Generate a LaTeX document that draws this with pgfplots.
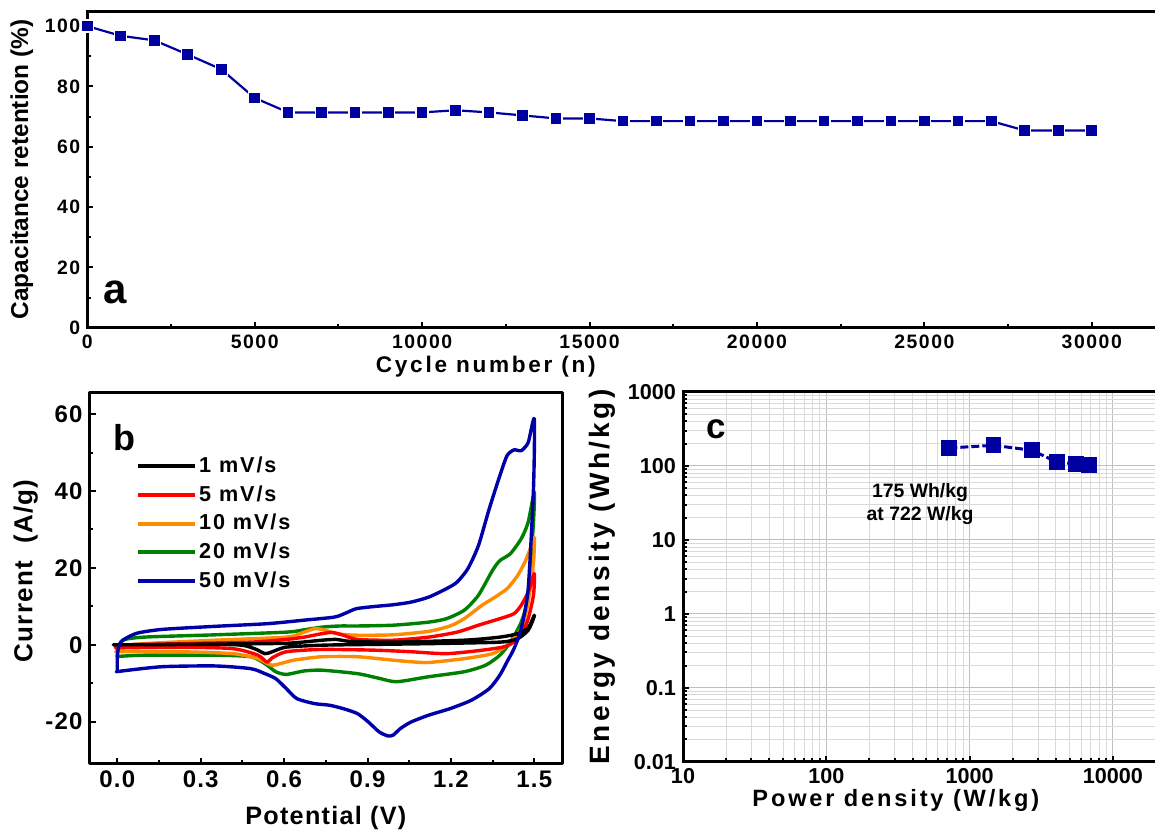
\documentclass[border=0pt]{standalone}
\usepackage{fontspec}
\setmainfont{Liberation Sans}
\newfontfamily\spA[LetterSpace=8]{Liberation Sans}
\newfontfamily\spB[LetterSpace=5]{Liberation Sans}
\newfontfamily\spL[LetterSpace=9]{Liberation Sans}
\newfontfamily\spC[LetterSpace=12]{Liberation Sans}
\usepackage{pgfplots}
\pgfplotsset{compat=1.18}
\definecolor{navy}{RGB}{0,0,160}
\definecolor{cvblue}{RGB}{0,0,170}
\definecolor{cvred}{RGB}{255,0,0}
\definecolor{cvorange}{RGB}{255,140,0}
\definecolor{cvgreen}{RGB}{0,128,0}
\pgfplotsset{
  myaxis/.style={scale only axis, axis line style={line width=1.5pt},
    tick style={line width=1pt, black}, tick align=inside, tick pos=left,
    major tick length=3pt, minor tick length=1.8pt,
    /pgf/number format/assume math mode=true, /pgf/number format/1000 sep={},
    scaled ticks=false},
  cv/.style={line width=1.7pt, forget plot, smooth, tension=0.4},
}
\begin{document}
\begin{tikzpicture}
\path[use as bounding box] (0,0) rectangle (577.5pt,417pt);
% ---------------- panel a
\begin{axis}[myaxis, at={(43.65pt,253.15pt)}, anchor=south west,
  width=535.7pt, height=158.3pt,
  xmin=0, xmax=32000, ymin=0, ymax=105,
  xtick={0,5000,...,30000}, ytick={0,20,...,100},
  minor x tick num=1, minor y tick num=1,
  ticklabel style={font=\spA\bfseries\fontsize{9.7}{11}\selectfont},
  xlabel={Cycle number (n)}, ylabel={Capacitance retention (\%)},
  xlabel style={font=\spC\bfseries\fontsize{11.3}{13}\selectfont, at={(axis description cs:0.372,-0.124)}, anchor=center},
  ylabel style={font=\bfseries\fontsize{12.2}{14}\selectfont, at={(axis description cs:-0.061,0.5)}, anchor=center},
]
\addplot[navy, line width=1.1pt, mark=square*, mark size=3pt,
  mark options={solid, fill=navy, draw=white, line width=0.7pt}] coordinates {
(0,100) (1000,96.8) (2000,95.3) (3000,90.6) (4000,85.7) (5000,76.2)
(6000,71.4) (7000,71.4) (8000,71.4) (9000,71.4) (10000,71.4) (11000,72.1)
(12000,71.4) (13000,70.4) (14000,69.4) (15000,69.4) (16000,68.5) (17000,68.5)
(18000,68.5) (19000,68.5) (20000,68.5) (21000,68.5) (22000,68.5) (23000,68.5)
(24000,68.5) (25000,68.5) (26000,68.5) (27000,68.5) (28000,65.4) (29000,65.4)
(30000,65.4)};
\node[font=\bfseries\fontsize{21}{24}\selectfont] at (rel axis cs:0.026,0.11) {a};
\end{axis}
% ---------------- panel b
\begin{axis}[myaxis, at={(44.75pt,35pt)}, anchor=south west,
  width=236.3pt, height=185.5pt,
  xmin=-0.1, xmax=1.6, ymin=-31, ymax=65.5,
  xtick={0,0.3,0.6,0.9,1.2,1.5}, ytick={-20,0,20,40,60},
  minor x tick num=1, minor y tick num=1,
  xticklabel style={/pgf/number format/.cd, fixed, fixed zerofill, precision=1},
  ticklabel style={font=\spB\bfseries\fontsize{12}{14}\selectfont},
  xlabel={Potential (V)}, ylabel={Current\ \ (A/g)},
  xlabel style={font=\spB\bfseries\fontsize{12.6}{14}\selectfont, at={(axis description cs:0.5,-0.145)}, anchor=center},
  ylabel style={font=\spB\bfseries\fontsize{13}{15}\selectfont, at={(axis description cs:-0.135,0.52)}, anchor=center},
  legend style={draw=none, fill=none, at={(rel axis cs:0.085,0.845)}, anchor=north west,
    font=\spL\bfseries\fontsize{10.8}{12}\selectfont, row sep=3pt,
    nodes={inner sep=1pt}},
  legend cell align=left,
  legend image code/.code={\draw[#1, line width=2pt] (0pt,0pt) -- (28.5pt,0pt);},
  line join=round,
]
\addlegendimage{black}\addlegendentry{1 mV/s}
\addlegendimage{cvred}\addlegendentry{5 mV/s}
\addlegendimage{cvorange}\addlegendentry{10 mV/s}
\addlegendimage{cvgreen}\addlegendentry{20 mV/s}
\addlegendimage{cvblue}\addlegendentry{50 mV/s}
\addplot[cvgreen, cv] coordinates {
(0,-3.0) (0.003,-1) (0.019,1.2) (0.096,2.0) (0.352,2.6) (0.608,3.3) (0.672,3.9)
(0.736,4.6) (0.8,4.9) (0.864,4.9) (0.992,5.1) (1.12,5.9) (1.184,6.8) (1.248,9.0)
(1.299,12.9) (1.35,19.4) (1.376,21.9) (1.414,23.7) (1.453,27.6) (1.478,31.9) (1.5,39.7)
(1.497,31.9) (1.478,12.9) (1.453,5.9) (1.414,0.74) (1.376,-2.7) (1.325,-5.3) (1.248,-7.0)
(1.12,-8.3) (1.005,-9.6) (0.941,-8.7) (0.864,-7.5) (0.736,-6.6) (0.672,-6.8) (0.608,-7.7)
(0.57,-7.0) (0.531,-4.9) (0.48,-3.1) (0.352,-2.7) (0.096,-2.7) (0.006,-3.0) (0,-3.0)};
\addplot[cvorange, cv] coordinates {
(0,-1.8) (0.006,-0.5) (0.096,0.3) (0.352,1.2) (0.608,2.0) (0.672,3.3) (0.71,4.2)
(0.736,4.0) (0.8,2.8) (0.864,2.5) (0.992,2.6) (1.12,3.5) (1.197,4.9) (1.248,6.8)
(1.312,10.3) (1.35,12.0) (1.402,14.6) (1.44,18.0) (1.466,21.5) (1.485,24.9) (1.5,27.9)
(1.497,21.5) (1.478,11.1) (1.453,4.2) (1.402,-0.1) (1.35,-2.3) (1.248,-3.6) (1.12,-4.6)
(1.056,-4.4) (0.992,-4.0) (0.864,-3.1) (0.736,-3.1) (0.634,-4.0) (0.557,-5.3) (0.506,-3.6)
(0.416,-2.3) (0.224,-1.8) (0.006,-1.8) (0,-1.8)};
\addplot[cvred, cv] coordinates {
(0,-0.8) (0.006,-0.1) (0.224,0.3) (0.48,0.7) (0.608,1.4) (0.672,2.0) (0.736,2.9)
(0.774,3.2) (0.813,2.5) (0.864,1.4) (0.992,1.2) (1.12,2.0) (1.222,3.3) (1.299,5.1)
(1.376,6.8) (1.427,8.1) (1.453,10.3) (1.478,13.7) (1.5,18.5) (1.497,12.9) (1.478,6.8)
(1.453,2.5) (1.402,-0.3) (1.312,-1.4) (1.184,-2.3) (1.056,-1.8) (0.928,-1.4) (0.736,-1.2)
(0.608,-1.8) (0.557,-3.4) (0.538,-4.5) (0.506,-2.7) (0.416,-1.0) (0.224,-0.6) (0.006,-0.8) (0,-0.8)};
\addplot[black, cv] coordinates {
(0,0) (0.352,0.2) (0.608,0.4) (0.736,1.2) (0.787,1.4) (0.838,0.9) (0.992,0.7)
(1.248,1.2) (1.376,2.0) (1.44,2.9) (1.478,4.4) (1.5,7.7) (1.497,6.8) (1.478,3.8)
(1.44,1.6) (1.376,0.7) (1.12,0.3) (0.864,0.05) (0.736,-0.1) (0.608,-0.6) (0.557,-1.8)
(0.531,-2.3) (0.493,-1.0) (0.416,0.05) (0.006,0) (0,0)};
\addplot[cvblue, cv] coordinates {
(0,-7.0) (0,-3.2) (0.005,-0.5) (0.02,1.2) (0.07,3.0) (0.16,4.0) (0.35,4.8) (0.54,5.5)
(0.67,6.4) (0.78,7.2) (0.82,8.2) (0.86,9.4) (0.93,10.0) (0.99,10.4) (1.056,11.1)
(1.12,12.4) (1.184,14.6) (1.222,16.3) (1.261,19.8) (1.299,25.8) (1.338,35.4) (1.376,44.0)
(1.402,49.2) (1.427,50.7) (1.453,50.5) (1.478,52.6) (1.50,58.7) (1.497,40.5) (1.478,14.6)
(1.453,4.2) (1.427,-1.0) (1.402,-4.4) (1.376,-7.9) (1.338,-11.4) (1.274,-14.4) (1.197,-16.6)
(1.12,-18.3) (1.056,-20.1) (1.018,-21.8) (0.992,-23.5) (0.973,-23.7) (0.941,-22.6)
(0.902,-20.0) (0.864,-17.9) (0.813,-16.6) (0.762,-15.7) (0.71,-15.3) (0.646,-14.0)
(0.608,-11.4) (0.57,-8.8) (0.531,-7.5) (0.48,-6.2) (0.352,-5.5) (0.16,-5.7) (0.006,-6.9) (0,-7.0)};
\node[font=\bfseries\fontsize{18}{20}\selectfont] at (rel axis cs:0.073,0.881) {b};
\end{axis}
% ---------------- panel c
\begin{axis}[myaxis, xmode=log, ymode=log, at={(341.5pt,36.15pt)}, anchor=south west,
  width=236.5pt, height=184.85pt,
  xmin=10, xmax=20000, ymin=0.01, ymax=1000,
  log ticks with fixed point,
  xtick={10,100,1000,10000}, ytick={0.01,0.1,1,10,100,1000},
  grid=both, major grid style={gray!50, line width=0.5pt}, minor grid style={gray!30, line width=0.45pt},
  ticklabel style={font=\bfseries\fontsize{10.8}{12}\selectfont},
  xlabel={Power density (W/kg)}, ylabel={Energy density (Wh/kg)},
  xlabel style={font=\spC\bfseries\fontsize{11.8}{13}\selectfont, at={(axis description cs:0.45,-0.105)}, anchor=center},
  ylabel style={font=\spC\bfseries\fontsize{14}{15}\selectfont, at={(axis description cs:-0.17,0.5)}, anchor=center},
]
\addplot[navy, line width=1.5pt, dash pattern=on 4pt off 1.5pt, mark=square*, mark size=3.2pt,
  mark options={solid, fill=navy}] coordinates {
(722,175) (1470,190) (2720,163) (4050,113) (5520,107) (6800,104)};
\node[font=\bfseries\fontsize{9.7}{11.5}\selectfont, align=center] at (axis cs:451,30.5) {175 Wh/kg\\at 722 W/kg};
\node[font=\bfseries\fontsize{17.5}{20}\selectfont] at (rel axis cs:0.07,0.899) {c};
\end{axis}
\end{tikzpicture}
\end{document}
